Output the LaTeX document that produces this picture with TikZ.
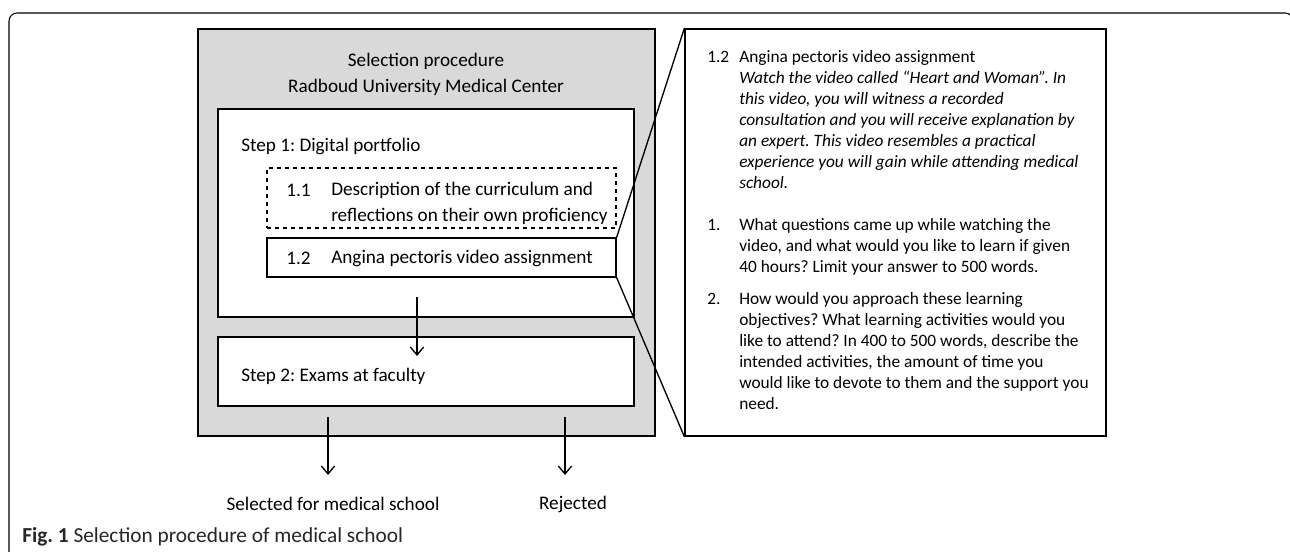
\documentclass[tikz,border=0pt]{standalone}
\usepackage{fontspec}
\setmainfont{Carlito}
\usetikzlibrary{arrows.meta,positioning,fit}
\frenchspacing

\definecolor{procgray}{HTML}{D9D9D9}

\tikzset{
  box/.style={draw, line width=1pt, inner sep=0pt},
  arr/.style={-{Straight Barb[length=6pt,width=10pt]}, line width=1pt},
  big/.style={font=\fontsize{14.4}{19.5}\selectfont},
  small/.style={font=\fontsize{13}{15.75}\selectfont},
}

\begin{document}
\begin{tikzpicture}[x=0.75pt,y=-0.75pt]
\useasboundingbox (0,0) rectangle (1290,555);

% frame
\draw[line width=0.8pt, rounded corners=6pt] (9,552) -- (9,13) -- (1293,13) -- (1293,40);

% left part
\node[box, fill=procgray, fit={(198,29) (655,436)}] (proc) {};
\node[box, fill=white, fit={(218,109) (634,317)}] (stepone) {};
\node[box, fill=white, dashed, fit={(267,168) (616,228)}] (itema) {};
\node[box, fill=white, fit={(267,238) (616,277)}] (itemb) {};
\node[box, fill=white, fit={(218,337) (634,406)}] (steptwo) {};

\node[big, align=center] (title) at (426,74) {Selection procedure\\Radboud University Medical Center};
\node[big, anchor=west, inner sep=0pt] (steponelbl) at (241,146) {Step 1: Digital portfolio};
\node[big, anchor=west, inner sep=0pt] (itemanum) at (286,190) {1.1};
\node[big, anchor=north west, inner sep=0pt, align=left] (itematxt) at (331,182) {Description of the curriculum and\\reflections on their own proficiency};
\node[big, anchor=west, inner sep=0pt] (itembnum) at (286,258) {1.2};
\node[big, anchor=west, inner sep=0pt] (itembtxt) at (331,258) {Angina pectoris video assignment};
\node[big, anchor=west, inner sep=0pt] (steptwolbl) at (241,376) {Step 2: Exams at faculty};

\node[big] (sel) at (333,504) {Selected for medical school};
\node[big] (rej) at (573,504) {Rejected};

% arrows
\coordinate (s1out) at (417,297);
\coordinate (s2in) at (417,356);
\coordinate (selout) at (328,417);
\coordinate (selin) at (328,475);
\coordinate (rejout) at (565,417);
\coordinate (rejin) at (565,475);
\draw[arr] (s1out) -- (s2in);
\draw[arr] (selout) -- (selin);
\draw[arr] (rejout) -- (rejin);

% right panel
\node[box, fill=white, fit={(685,29) (1106,436)}] (panel) {};
\draw[line width=1pt] (itemb.north east) -- (panel.north west);
\draw[line width=1pt] (itemb.south east) -- (panel.south west);

\node[small, anchor=west, inner sep=0pt] (panelnum) at (707,57) {1.2};
\node[small, anchor=north west, inner sep=0pt, align=left] (paneltxt) at (739,50) {Angina pectoris video assignment\\
\itshape Watch the video called “Heart and Woman”. In\\
\itshape this video, you will witness a recorded\\
\itshape consultation and you will receive explanation by\\
\itshape an expert. This video resembles a practical\\
\itshape experience you will gain while attending medical\\
\itshape school.};
\node[small, anchor=west, inner sep=0pt] (qonenum) at (707,225) {1.};
\node[small, anchor=north west, inner sep=0pt, align=left] (qone) at (739,218) {What questions came up while watching the\\
video, and what would you like to learn if given\\
40 hours? Limit your answer to 500 words.};
\node[small, anchor=west, inner sep=0pt] (qtwonum) at (707,299) {2.};
\node[small, anchor=north west, inner sep=0pt, align=left] (qtwo) at (739,292) {How would you approach these learning\\
objectives? What learning activities would you\\
like to attend? In 400 to 500 words, describe the\\
intended activities, the amount of time you\\
would like to devote to them and the support you\\
need.};

% caption
\node[anchor=west, inner sep=0pt, font=\fontsize{16}{18}\selectfont, text=black!85] (caption) at (22,537) {\textbf{Fig. 1} Selection procedure of medical school};
\end{tikzpicture}
\end{document}
